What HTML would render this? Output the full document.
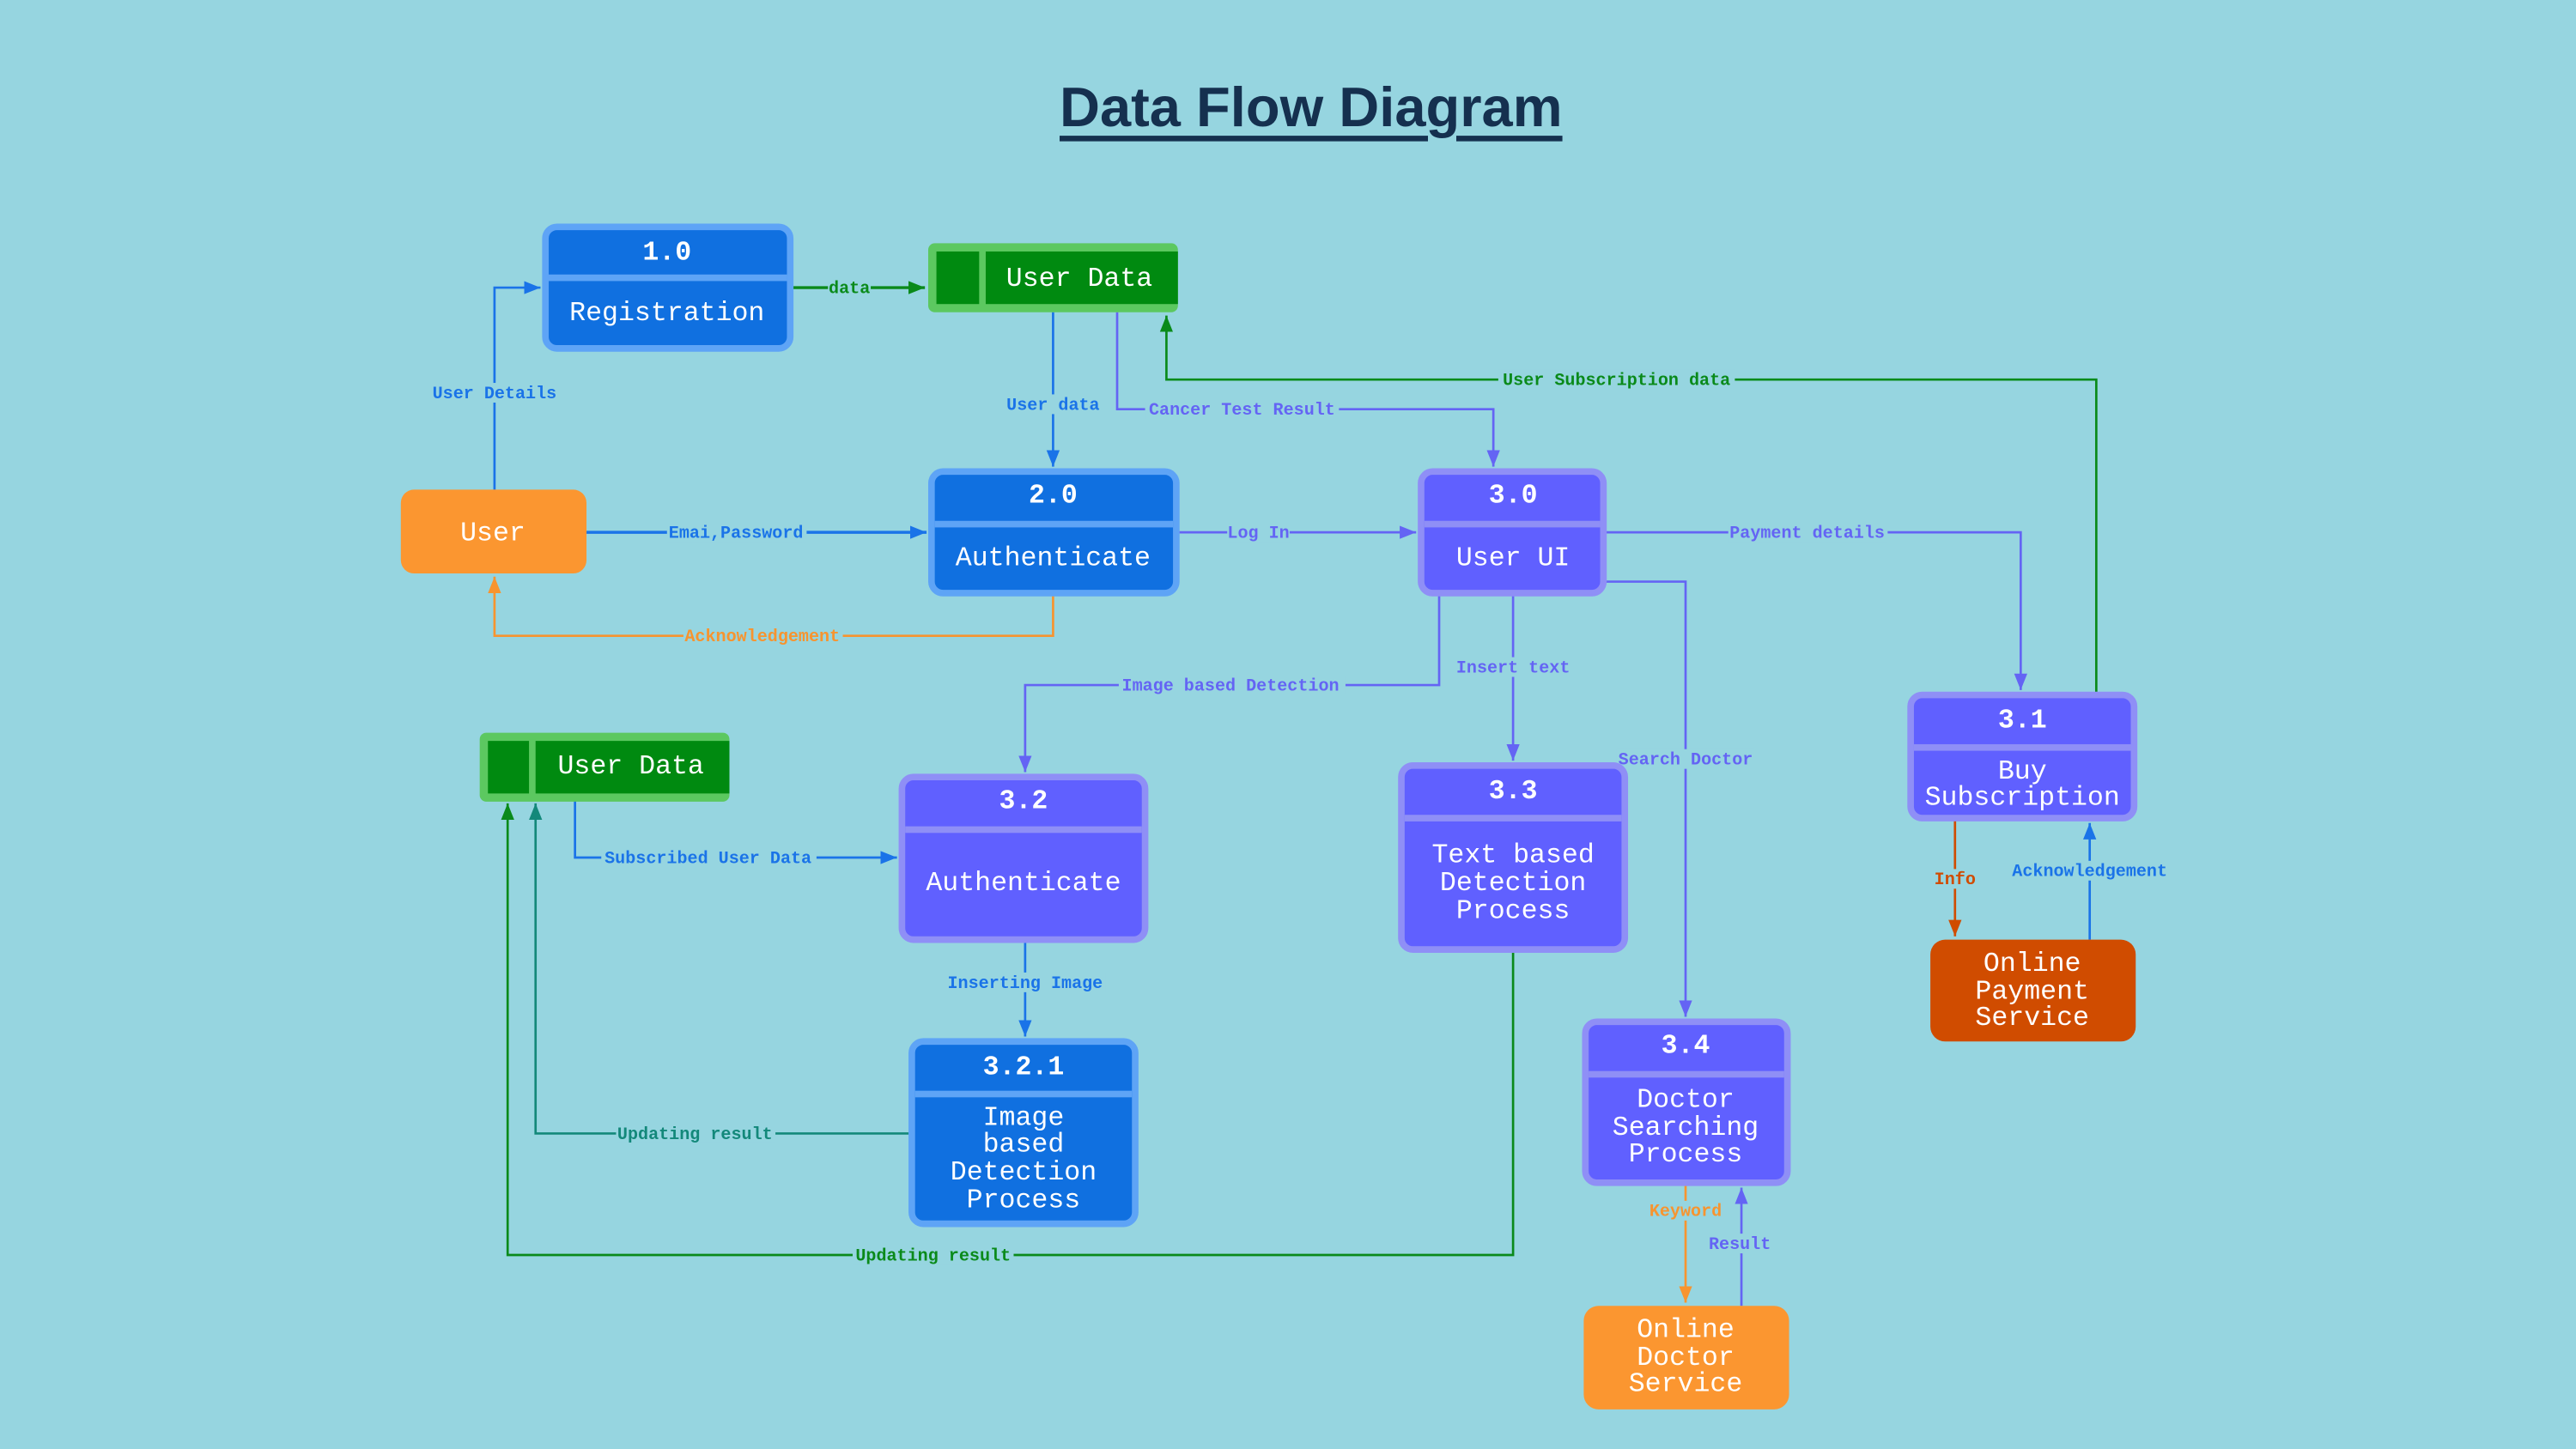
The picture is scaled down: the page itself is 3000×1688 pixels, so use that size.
<!DOCTYPE html>
<html><head><meta charset="utf-8"><style>
html,body{margin:0;padding:0;background:#96d5e0;}
svg{display:block}
.t{font-family:"Liberation Mono",monospace;fill:#fff;text-anchor:middle;dominant-baseline:central;font-size:16.5px}
.h{font-weight:bold}
.l{font-family:"Liberation Mono",monospace;font-size:10.5px;font-weight:bold;text-anchor:middle;dominant-baseline:central}
</style></head><body>
<svg width="3000" height="1688" viewBox="0 0 1568 882" xmlns="http://www.w3.org/2000/svg">
<defs>
<marker id="mb" viewBox="0 0 10 10" refX="10" refY="5" markerWidth="10" markerHeight="10" markerUnits="userSpaceOnUse" orient="auto"><path d="M0,1L10,5L0,9z" fill="#1a73e8"/></marker>
<marker id="mg" viewBox="0 0 10 10" refX="10" refY="5" markerWidth="10" markerHeight="10" markerUnits="userSpaceOnUse" orient="auto"><path d="M0,1L10,5L0,9z" fill="#0a8a1a"/></marker>
<marker id="mp" viewBox="0 0 10 10" refX="10" refY="5" markerWidth="10" markerHeight="10" markerUnits="userSpaceOnUse" orient="auto"><path d="M0,1L10,5L0,9z" fill="#6464f4"/></marker>
<marker id="mo" viewBox="0 0 10 10" refX="10" refY="5" markerWidth="10" markerHeight="10" markerUnits="userSpaceOnUse" orient="auto"><path d="M0,1L10,5L0,9z" fill="#f7942f"/></marker>
<marker id="md" viewBox="0 0 10 10" refX="10" refY="5" markerWidth="10" markerHeight="10" markerUnits="userSpaceOnUse" orient="auto"><path d="M0,1L10,5L0,9z" fill="#d04c00"/></marker>
<marker id="mt" viewBox="0 0 10 10" refX="10" refY="5" markerWidth="10" markerHeight="10" markerUnits="userSpaceOnUse" orient="auto"><path d="M0,1L10,5L0,9z" fill="#13887a"/></marker>
</defs>
<rect width="1568" height="882" fill="#96d5e0"/>
<text x="798" y="65" text-anchor="middle" dominant-baseline="central" font-family="Liberation Sans,sans-serif" font-weight="bold" font-size="34" fill="#15304f" text-decoration="underline">Data Flow Diagram</text>

<g fill="none" stroke-width="1.4">
<path d="M301,298V175H329" stroke="#1a73e8" marker-end="url(#mb)"/>
<path d="M482,175H563" stroke="#0a8a1a" stroke-width="1.8" marker-end="url(#mg)"/>
<path d="M641,190V284" stroke="#1a73e8" marker-end="url(#mb)"/>
<path d="M680,190V249H909V284" stroke="#6464f4" marker-end="url(#mp)"/>
<path d="M1276,422V231H710V192" stroke="#0a8a1a" marker-end="url(#mg)"/>
<path d="M357,324H564" stroke="#1a73e8" stroke-width="1.8" marker-end="url(#mb)"/>
<path d="M641,362V387H301V351" stroke="#f7942f" marker-end="url(#mo)"/>
<path d="M717,324H862" stroke="#6464f4" marker-end="url(#mp)"/>
<path d="M977,324H1230V420" stroke="#6464f4" marker-end="url(#mp)"/>
<path d="M977,354H1026V619" stroke="#6464f4" marker-end="url(#mp)"/>
<path d="M921,362V463" stroke="#6464f4" marker-end="url(#mp)"/>
<path d="M876,362V417H624V470" stroke="#6464f4" marker-end="url(#mp)"/>
<path d="M1190,499V570" stroke="#d04c00" marker-end="url(#md)"/>
<path d="M1272,572V501" stroke="#1a73e8" marker-end="url(#mb)"/>
<path d="M350,487V522H546" stroke="#1a73e8" marker-end="url(#mb)"/>
<path d="M624,573V631" stroke="#1a73e8" marker-end="url(#mb)"/>
<path d="M554,690H326V489" stroke="#13887a" marker-end="url(#mt)"/>
<path d="M921,579V764H309V489" stroke="#0a8a1a" marker-end="url(#mg)"/>
<path d="M1026,721V793" stroke="#f7942f" marker-end="url(#mo)"/>
<path d="M1060,795V723" stroke="#6464f4" marker-end="url(#mp)"/>
</g>

<g class="l">
<rect x="260" y="233" width="82" height="12" fill="#96d5e0"/><text x="301" y="239" dy="1" fill="#1a73e8">User Details</text>
<rect x="504" y="169" width="26" height="12" fill="#96d5e0"/><text x="517" y="175" dy="1" fill="#0a8a1a">data</text>
<rect x="612" y="240" width="60" height="12" fill="#96d5e0"/><text x="641" y="246" dy="1" fill="#1a73e8">User data</text>
<rect x="697" y="243" width="118" height="12" fill="#96d5e0"/><text x="756" y="249" dy="1" fill="#6464f4">Cancer Test Result</text>
<rect x="912" y="225" width="144" height="12" fill="#96d5e0"/><text x="984" y="231" dy="1" fill="#0a8a1a">User Subscription data</text>
<rect x="406" y="318" width="85" height="12" fill="#96d5e0"/><text x="448" y="324" dy="1" fill="#1a73e8">Emai,Password</text>
<rect x="416" y="381" width="97" height="12" fill="#96d5e0"/><text x="464" y="387" dy="1" fill="#f7942f">Acknowledgement</text>
<rect x="747" y="318" width="38" height="12" fill="#96d5e0"/><text x="766" y="324" dy="1" fill="#6464f4">Log In</text>
<rect x="1052" y="318" width="97" height="12" fill="#96d5e0"/><text x="1100" y="324" dy="1" fill="#6464f4">Payment details</text>
<rect x="984" y="456" width="84" height="12" fill="#96d5e0"/><text x="1026" y="462" dy="1" fill="#6464f4">Search Doctor</text>
<rect x="885" y="400" width="72" height="12" fill="#96d5e0"/><text x="921" y="406" dy="1" fill="#6464f4">Insert text</text>
<rect x="681" y="411" width="138" height="12" fill="#96d5e0"/><text x="749" y="417" dy="1" fill="#6464f4">Image based Detection</text>
<rect x="1177" y="529" width="26" height="12" fill="#96d5e0"/><text x="1190" y="535" dy="1" fill="#d04c00">Info</text>
<rect x="1223" y="524" width="98" height="12" fill="#96d5e0"/><text x="1272" y="530" dy="1" fill="#1a73e8">Acknowledgement</text>
<rect x="366" y="516" width="131" height="12" fill="#96d5e0"/><text x="431" y="522" dy="1" fill="#1a73e8">Subscribed User Data</text>
<rect x="575" y="592" width="98" height="12" fill="#96d5e0"/><text x="624" y="598" dy="1" fill="#1a73e8">Inserting Image</text>
<rect x="375" y="684" width="97" height="12" fill="#96d5e0"/><text x="423" y="690" dy="1" fill="#13887a">Updating result</text>
<rect x="519" y="758" width="98" height="12" fill="#96d5e0"/><text x="568" y="764" dy="1" fill="#0a8a1a">Updating result</text>
<rect x="1004" y="731" width="44" height="12" fill="#96d5e0"/><text x="1026" y="737" dy="1" fill="#f7942f">Keyword</text>
<rect x="1040" y="751" width="38" height="12" fill="#96d5e0"/><text x="1059" y="757" dy="1" fill="#6464f4">Result</text>
</g>

<!-- data stores -->
<rect x="565" y="148" width="152" height="42" rx="4" fill="#5cc860"/>
<rect x="570" y="153" width="26" height="32" fill="#008a10"/>
<rect x="600" y="153" width="117" height="32" fill="#008a10"/>
<text class="t" x="657" y="169" dy="1">User Data</text>
<rect x="292" y="446" width="152" height="42" rx="4" fill="#5cc860"/>
<rect x="297" y="451" width="25" height="32" fill="#008a10"/>
<rect x="326" y="451" width="118" height="32" fill="#008a10"/>
<text class="t" x="384" y="466" dy="1">User Data</text>

<g transform="translate(0,1)">
<rect x="332" y="137" width="149" height="74" rx="7" fill="#1070e0" stroke="#5ea4f6" stroke-width="4"/>
<rect x="334" y="166" width="145" height="4" fill="#5ea4f6"/>
<text class="t h" x="406" y="153">1.0</text><text class="t" x="406" y="190">Registration</text>

<rect x="567" y="286" width="149" height="74" rx="7" fill="#1070e0" stroke="#5ea4f6" stroke-width="4"/>
<rect x="569" y="316" width="145" height="4" fill="#5ea4f6"/>
<text class="t h" x="641" y="301">2.0</text><text class="t" x="641" y="339">Authenticate</text>

<rect x="555" y="633" width="136" height="111" rx="7" fill="#1070e0" stroke="#5ea4f6" stroke-width="4"/>
<rect x="557" y="663" width="132" height="4" fill="#5ea4f6"/>
<text class="t h" x="623" y="649">3.2.1</text>
<text class="t" x="623" y="680">Image</text><text class="t" x="623" y="696">based</text><text class="t" x="623" y="713">Detection</text><text class="t" x="623" y="730">Process</text>

<rect x="865" y="286" width="111" height="74" rx="7" fill="#6060ff" stroke="#8f8ff6" stroke-width="4"/>
<rect x="867" y="316" width="107" height="4" fill="#8f8ff6"/>
<text class="t h" x="921" y="301">3.0</text><text class="t" x="921" y="339">User UI</text>

<rect x="1163" y="422" width="136" height="75" rx="7" fill="#6060ff" stroke="#8f8ff6" stroke-width="4"/>
<rect x="1165" y="452" width="132" height="4" fill="#8f8ff6"/>
<text class="t h" x="1231" y="438">3.1</text><text class="t" x="1231" y="469">Buy</text><text class="t" x="1231" y="485">Subscription</text>

<rect x="549" y="472" width="148" height="99" rx="7" fill="#6060ff" stroke="#8f8ff6" stroke-width="4"/>
<rect x="551" y="502" width="144" height="4" fill="#8f8ff6"/>
<text class="t h" x="623" y="487">3.2</text><text class="t" x="623" y="537">Authenticate</text>

<rect x="853" y="465" width="136" height="112" rx="7" fill="#6060ff" stroke="#8f8ff6" stroke-width="4"/>
<rect x="855" y="495" width="132" height="4" fill="#8f8ff6"/>
<text class="t h" x="921" y="481">3.3</text>
<text class="t" x="921" y="520">Text based</text><text class="t" x="921" y="537">Detection</text><text class="t" x="921" y="554">Process</text>

<rect x="965" y="621" width="123" height="98" rx="7" fill="#6060ff" stroke="#8f8ff6" stroke-width="4"/>
<rect x="967" y="651" width="119" height="4" fill="#8f8ff6"/>
<text class="t h" x="1026" y="636">3.4</text>
<text class="t" x="1026" y="669">Doctor</text><text class="t" x="1026" y="686">Searching</text><text class="t" x="1026" y="702">Process</text>
</g>

<rect x="244" y="298" width="113" height="51" rx="8" fill="#fb9630"/>
<text class="t" x="300" y="324" dy="1">User</text>
<rect x="1175" y="572" width="125" height="62" rx="9" fill="#d04c00"/>
<text class="t" x="1237" y="587">Online</text><text class="t" x="1237" y="604">Payment</text><text class="t" x="1237" y="620">Service</text>
<rect x="964" y="795" width="125" height="63" rx="9" fill="#fb9630"/>
<text class="t" x="1026" y="810">Online</text><text class="t" x="1026" y="827">Doctor</text><text class="t" x="1026" y="843">Service</text>
</svg>
</body></html>
